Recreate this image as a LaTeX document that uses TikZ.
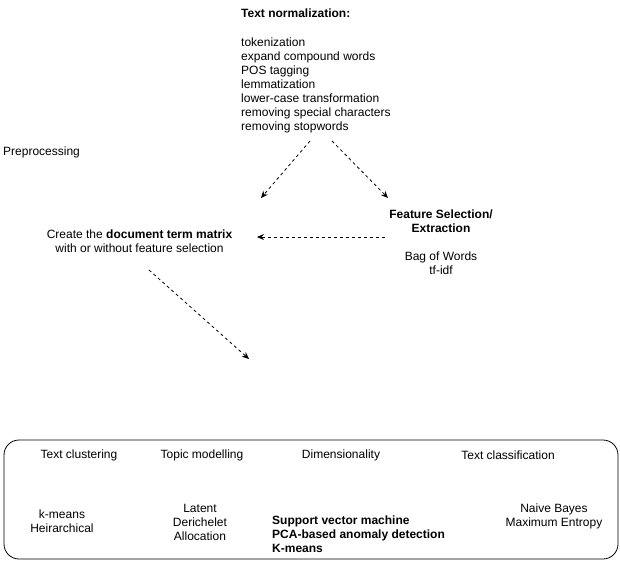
\documentclass[tikz,border=0pt]{standalone}
\usepackage{fontspec}
\setmainfont{Liberation Sans}
\usetikzlibrary{arrows.meta,positioning}

\begin{document}
\begin{tikzpicture}[x=1pt,y=-1pt,
  txt/.style={inner sep=0pt,yshift=-1pt,font=\fontsize{12}{14}\selectfont},
  flow/.style={line width=0.8pt,dash pattern=on 3pt off 3pt,-{Stealth[length=7pt,width=6pt]}}]
\useasboundingbox (0,0) rectangle (620,561);

\node[txt,anchor=west,align=left] (norm) at (241,70) {\textbf{Text normalization:}\\[15pt]tokenization\\expand compound words\\POS tagging\\lemmatization\\lower-case transformation\\removing special characters\\removing stopwords};
\node[txt,anchor=west] (prep) at (3,151) {Preprocessing};

\node[txt,align=center] (dtm) at (139.5,240.5) {Create the \textbf{document term matrix}\\with or without feature selection};
\node[txt,align=center] (feat) at (441,241) {\textbf{Feature Selection/}\\\textbf{Extraction}\\[14pt]Bag of Words\\tf-idf};

\coordinate (n1) at (310,141);
\coordinate (n2) at (332,141);
\coordinate (d1) at (261,198);
\coordinate (f1) at (388,198);
\coordinate (f2) at (385,237);
\coordinate (d2) at (257,237);
\coordinate (d3) at (149,270);
\coordinate (t1) at (249,359);

\draw[flow] (n1) -- (d1);
\draw[flow] (n2) -- (f1);
\draw[flow] (f2) -- (d2);
\draw[flow] (d3) -- (t1);

% methods
\node[draw,line width=0.8pt,rounded corners=15pt,inner sep=0pt,minimum width=614pt,minimum height=119pt] (tasks) at (311,499.5) {};

\node[txt] (clus) at (79,454) {Text clustering};
\node[txt] (topic) at (202,454) {Topic modelling};
\node[txt] (dim) at (341,454) {Dimensionality};
\node[txt] (class) at (508,454) {Text classification};

\node[txt,align=center] (clusm) at (62,520.5) {k-means\\Heirarchical};
\node[txt,align=center] (topicm) at (200,521) {Latent\\Derichelet\\Allocation};
\node[txt,align=left,anchor=west] (dimm) at (272,533) {\textbf{Support vector machine}\\\textbf{PCA-based anomaly detection}\\\textbf{K-means}};
\node[txt,align=center] (classm) at (554,515.5) {Naive Bayes\\Maximum Entropy};
\end{tikzpicture}
\end{document}
